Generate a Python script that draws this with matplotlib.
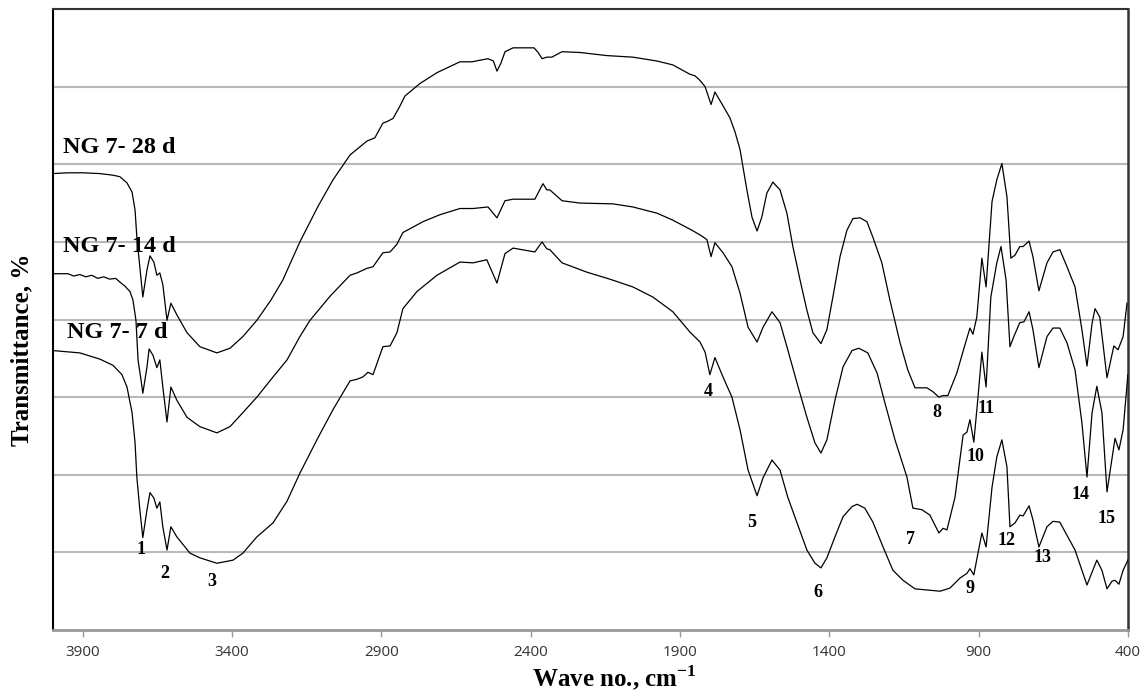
import matplotlib
matplotlib.use('Agg')
import matplotlib.pyplot as plt

plt.rcParams['mathtext.fontset'] = 'custom'
plt.rcParams['mathtext.rm'] = 'Liberation Serif:bold'
plt.rcParams['mathtext.bf'] = 'Liberation Serif:bold'

# FTIR spectra of NG 7 after 7, 14 and 28 days (wave number, cm-1 / transmittance, %)
wn_28 = [4000, 3950, 3900, 3843, 3800, 3776, 3752, 3735, 3725, 3719, 3709, 3699, 3685, 3675, 3662,
         3652, 3642, 3632, 3618, 3605, 3585, 3551, 3508, 3451, 3407, 3364, 3317, 3270, 3230, 3216,
         3173, 3112, 3062, 3005, 2948, 2922, 2895, 2881, 2861, 2838, 2821, 2771, 2714, 2637, 2597,
         2543, 2525, 2513, 2500, 2486, 2459, 2389, 2375, 2362, 2346, 2329, 2295, 2235, 2145, 2058,
         1977, 1924, 1867, 1850, 1833, 1816, 1796, 1783, 1760, 1733, 1716, 1699, 1676, 1659, 1642,
         1626, 1609, 1589, 1565, 1542, 1522, 1498, 1475, 1455, 1428, 1408, 1388, 1364, 1341, 1321,
         1297, 1274, 1254, 1224, 1197, 1163, 1137, 1113, 1073, 1053, 1033, 1020, 1003, 973, 946,
         929, 919, 906, 889, 875, 855, 839, 822, 805, 792, 778, 762, 751, 731, 718,
         698, 671, 651, 628, 604, 577, 554, 537, 520, 510, 494, 470, 447, 433, 416,
         403]
t_28 = [58.8, 58.9, 58.9, 58.8, 58.6, 58.4, 57.6, 56.4, 54.1, 50.6, 46.8, 42.9, 46.4, 48.2, 47.4,
        45.7, 46.0, 44.5, 39.9, 42.1, 40.6, 38.3, 36.5, 35.7, 36.3, 37.8, 39.9, 42.5, 45.1, 46.3,
        50.0, 54.6, 58.0, 61.2, 63.0, 63.4, 65.3, 65.5, 65.9, 67.5, 68.8, 70.4, 71.8, 73.2, 73.2,
        73.6, 73.3, 72.0, 73.0, 74.5, 75.0, 75.0, 74.4, 73.6, 73.8, 73.8, 74.5, 74.4, 74.0, 73.8,
        73.3, 72.8, 71.6, 71.4, 70.8, 70.0, 67.7, 69.3, 67.8, 66.0, 64.2, 61.9, 56.7, 53.2, 51.4,
        53.2, 56.3, 57.7, 56.7, 53.7, 49.4, 45.1, 41.2, 38.3, 36.9, 38.7, 42.9, 48.1, 51.5, 53.0,
        53.1, 52.6, 50.6, 47.3, 42.5, 37.0, 33.5, 31.2, 31.2, 30.7, 30.0, 30.2, 30.2, 33.1, 36.7,
        38.9, 38.1, 40.3, 47.9, 44.2, 55.2, 58.0, 60.1, 55.8, 47.9, 48.3, 49.4, 49.4, 50.1, 48.1,
        43.7, 47.3, 48.7, 49.0, 46.8, 44.2, 38.7, 34.0, 39.5, 41.4, 40.3, 32.5, 36.6, 36.1, 37.8,
        42.1]

wn_14 = [4000, 3950, 3930, 3910, 3890, 3870, 3850, 3830, 3810, 3790, 3775, 3759, 3742, 3732, 3722,
         3715, 3705, 3699, 3685, 3678, 3665, 3652, 3642, 3632, 3618, 3605, 3585, 3551, 3508, 3451,
         3407, 3364, 3317, 3263, 3216, 3173, 3139, 3072, 3005, 2982, 2948, 2928, 2895, 2871, 2848,
         2828, 2761, 2704, 2637, 2593, 2543, 2513, 2486, 2459, 2386, 2359, 2346, 2336, 2295, 2235,
         2125, 2058, 1977, 1924, 1860, 1833, 1810, 1796, 1783, 1756, 1726, 1699, 1672, 1642, 1622,
         1592, 1565, 1539, 1508, 1475, 1448, 1428, 1408, 1381, 1354, 1324, 1301, 1271, 1240, 1214,
         1180, 1140, 1120, 1090, 1063, 1033, 1019, 1006, 979, 952, 939, 929, 916, 902, 889,
         875, 859, 839, 825, 808, 795, 782, 762, 748, 731, 718, 698, 671, 651, 628,
         604, 577, 554, 537, 520, 504, 487, 470, 443, 430, 416, 400]
t_14 = [45.9, 45.9, 45.6, 45.8, 45.5, 45.7, 45.3, 45.5, 45.2, 45.3, 44.8, 44.3, 43.6, 42.5, 39.9,
        34.8, 32.2, 30.5, 33.9, 36.2, 35.4, 33.8, 34.8, 31.3, 26.8, 31.3, 29.6, 27.4, 26.2, 25.4,
        26.2, 28.0, 30.0, 32.6, 34.8, 37.8, 39.9, 43.0, 45.7, 46.0, 46.6, 46.8, 48.6, 48.7, 49.7,
        51.2, 52.6, 53.5, 54.3, 54.3, 54.5, 53.1, 55.3, 55.5, 55.5, 57.5, 56.7, 56.7, 55.3, 55.0,
        54.9, 54.5, 53.7, 52.8, 51.5, 50.9, 50.3, 48.1, 49.9, 48.6, 46.8, 43.4, 39.0, 37.1, 39.0,
        41.0, 39.6, 36.1, 31.8, 27.4, 24.1, 22.8, 24.5, 29.6, 33.9, 36.0, 36.3, 35.7, 33.1, 29.3,
        24.5, 19.7, 15.7, 15.5, 14.8, 12.5, 13.1, 12.9, 17.1, 25.1, 25.5, 27.1, 24.2, 30.0, 35.8,
        31.3, 42.9, 47.3, 49.4, 45.1, 36.5, 37.8, 39.6, 39.7, 41.0, 38.7, 33.8, 37.8, 38.9, 38.9,
        37.0, 33.5, 26.7, 19.7, 28.0, 31.4, 28.0, 17.8, 24.7, 23.2, 25.8, 32.9]

wn_7 = [4000, 3910, 3843, 3799, 3769, 3752, 3735, 3725, 3719, 3709, 3699, 3685, 3675, 3662, 3652,
        3642, 3632, 3618, 3605, 3585, 3541, 3508, 3451, 3397, 3364, 3317, 3263, 3216, 3173, 3116,
        3062, 3005, 2982, 2962, 2945, 2928, 2895, 2871, 2848, 2828, 2781, 2714, 2637, 2593, 2547,
        2513, 2486, 2459, 2386, 2362, 2346, 2336, 2295, 2212, 2135, 2058, 1991, 1924, 1867, 1833,
        1816, 1800, 1783, 1756, 1726, 1699, 1672, 1642, 1622, 1592, 1565, 1539, 1508, 1475, 1448,
        1428, 1408, 1381, 1354, 1324, 1307, 1281, 1254, 1220, 1187, 1153, 1113, 1029, 996, 962,
        939, 929, 916, 902, 889, 875, 855, 839, 822, 805, 795, 778, 762, 751, 731,
        718, 698, 671, 651, 628, 604, 577, 554, 537, 504, 487, 470, 453, 443, 430,
        416, 400]
t_7 = [36.0, 35.7, 34.9, 34.1, 32.9, 31.3, 28.0, 24.1, 19.7, 15.5, 11.9, 15.5, 17.7, 17.0, 15.7,
       16.5, 13.3, 10.3, 13.3, 12.0, 9.9, 9.3, 8.6, 9.0, 9.9, 12.0, 13.8, 16.6, 20.2, 24.5,
       28.4, 32.1, 32.3, 32.6, 33.2, 32.9, 36.5, 36.6, 38.3, 41.4, 43.6, 45.7, 47.4, 47.3, 47.7,
       44.7, 48.5, 49.2, 48.7, 50.0, 49.1, 49.0, 47.3, 46.1, 45.2, 44.2, 42.9, 41.0, 38.4, 37.1,
       35.8, 32.9, 35.1, 32.6, 30.0, 25.8, 20.6, 17.3, 19.6, 21.9, 20.6, 17.1, 13.8, 10.3, 8.6,
       8.0, 9.3, 12.0, 14.6, 15.9, 16.2, 15.7, 13.9, 10.7, 7.7, 6.4, 5.3, 5.0, 5.4, 6.7,
       7.3, 7.9, 7.1, 9.9, 12.5, 10.7, 18.4, 22.3, 24.5, 21.0, 13.3, 13.8, 14.8, 14.7, 16.0,
       14.2, 10.7, 13.3, 14.0, 13.9, 12.2, 10.3, 7.7, 5.8, 9.0, 7.7, 5.3, 6.3, 6.4, 5.9,
       7.7, 9.0]

series_names = ['NG 7- 28 d', 'NG 7- 14 d', 'NG 7- 7 d']
name_pos = [(3967, 62.2), (3967, 49.4), (3953, 38.3)]

peak_labels = ['1', '2', '3', '4', '5', '6', '7', '8', '9', '10', '11', '12', '13', '14', '15']
peak_pos = [(3705, 10.4), (3625, 7.3), (3468, 6.2), (1806, 30.7), (1659, 13.9), (1438, 4.8),
            (1127, 11.7), (1039, 28.0), (929, 5.4), (909, 22.3), (875, 28.5), (808, 11.5),
            (685, 9.3), (557, 17.4), (473, 14.4)]

xticks = [3900, 3400, 2900, 2400, 1900, 1400, 900, 400]

fig = plt.figure(figsize=(11.46, 6.99), dpi=100)
ax = fig.add_axes([0.0462, 0.0987, 0.9380, 0.8884])

for w, t in [(wn_28, t_28), (wn_14, t_14), (wn_7, t_7)]:
    ax.plot(w, t, color='black', lw=0.9, zorder=3)

ax.set_xlim(4000, 400)
ax.set_ylim(0, 80)
ax.set_yticks(range(10, 80, 10))
ax.yaxis.grid(True, color='#b8b8b8', lw=1.5)
ax.tick_params(axis='y', length=0, labelleft=False)
ax.set_xticks(xticks)
ax.set_xticklabels([str(x) for x in xticks], fontfamily='Open Sans', fontsize=11, color='#333333')
ax.tick_params(axis='x', direction='out', length=5, width=1, color='#999999', pad=6)

ax.spines['bottom'].set_color('#999999')
ax.spines['bottom'].set_linewidth(2)
ax.spines['left'].set_color('black')
ax.spines['left'].set_linewidth(1.5)
ax.spines['right'].set_color('#333333')
ax.spines['right'].set_linewidth(1.8)
ax.spines['top'].set_color('#333333')
ax.spines['top'].set_linewidth(1.5)

serif = dict(fontfamily='Liberation Serif', fontweight='bold', color='black')
for name, (x, y) in zip(series_names, name_pos):
    ax.text(x, y, name, fontsize=17.5, ha='left', va='center', **serif)
for lab, (x, y) in zip(peak_labels, peak_pos):
    ax.text(x, y, lab, fontsize=13, ha='center', va='center', **serif)

fig.text(0.019, 0.4993, 'Transmittance, %', rotation=90, fontsize=18, ha='center', va='center', **serif)
fig.text(0.5358, 0.030, r'Wave no., cm$^{-1}$', fontsize=18, ha='center', va='center', **serif)

fig.savefig('out.png', dpi=100)
